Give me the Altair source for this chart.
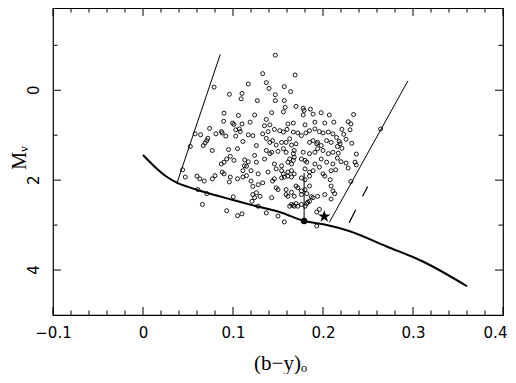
import altair as alt
import pandas as pd

# ---------------- data ----------------
star_by = [
    0.079, 0.096, 0.110, 0.109, 0.117, 0.127, 0.147, 0.133, 0.169, 0.137,
    0.140, 0.157, 0.164, 0.147, 0.147, 0.157, 0.158, 0.170, 0.178, 0.186,
    0.124, 0.143, 0.156, 0.178, 0.179, 0.189, 0.198, 0.207,
    0.137, 0.135, 0.141, 0.161, 0.167, 0.180, 0.191, 0.202, 0.212,
    0.122, 0.133, 0.139, 0.146, 0.152, 0.156, 0.160, 0.167, 0.172, 0.176, 0.181, 0.185, 0.191, 0.196, 0.200, 0.206, 0.211,
    0.126, 0.137, 0.141, 0.144, 0.148, 0.154, 0.159, 0.163, 0.165, 0.170, 0.185, 0.189, 0.193, 0.194, 0.198, 0.204, 0.209,
    0.124, 0.137, 0.141, 0.143, 0.150, 0.156, 0.159, 0.167, 0.168, 0.178, 0.185, 0.191, 0.194, 0.200, 0.206, 0.211,
    0.126, 0.135, 0.146, 0.154, 0.161, 0.163, 0.165, 0.167, 0.168, 0.176, 0.180, 0.182, 0.191, 0.198, 0.204, 0.211,
    0.120, 0.128, 0.139, 0.148, 0.154, 0.156, 0.161, 0.165, 0.168, 0.180, 0.185, 0.189, 0.196, 0.200, 0.209,
    0.090, 0.106, 0.0896, 0.0996, 0.101, 0.110, 0.107, 0.108, 0.119, 0.103,
    0.074, 0.081, 0.087, 0.088, 0.092, 0.103, 0.117, 0.058, 0.064, 0.072,
    0.071, 0.069, 0.067, 0.0526, 0.111, 0.077, 0.095, 0.105, 0.097, 0.093,
    0.101, 0.090, 0.087, 0.117, 0.115, 0.1126, 0.111, 0.044, 0.088, 0.090, 0.113,
    0.228, 0.231, 0.234, 0.221, 0.230, 0.215, 0.218, 0.2256, 0.223, 0.232,
    0.237, 0.216, 0.219, 0.221, 0.216, 0.220, 0.217, 0.2256, 0.2356, 0.237,
    0.264, 0.214, 0.228, 0.208, 0.209, 0.231,
    0.047, 0.060, 0.063, 0.068, 0.077, 0.080, 0.097, 0.096, 0.105, 0.111,
    0.115, 0.120, 0.061, 0.071, 0.066, 0.1003, 0.093, 0.105, 0.110, 0.121,
    0.146, 0.144, 0.154, 0.157, 0.161, 0.165, 0.176, 0.180, 0.185, 0.202,
    0.128, 0.133, 0.148, 0.150, 0.159, 0.161, 0.165, 0.170, 0.172, 0.176,
    0.180, 0.185, 0.194, 0.202, 0.209, 0.211, 0.213,
    0.122, 0.126, 0.130, 0.124, 0.143, 0.159, 0.168, 0.176, 0.182, 0.187, 0.189,
    0.163, 0.165, 0.167, 0.168, 0.170, 0.172, 0.176, 0.180, 0.182, 0.183, 0.185,
    0.128, 0.137, 0.150, 0.157, 0.193, 0.196, 0.193, 0.122,
]
star_mv = [
    -0.07, 0.09, 0.07, 0.19, -0.14, 0.23, -0.78, -0.37, -0.34, -0.17,
    -0.04, -0.08, 0.03, 0.10, 0.23, 0.23, 0.38, 0.36, 0.40, 0.42,
    0.55, 0.50, 0.48, 0.55, 0.45, 0.53, 0.50, 0.55,
    0.65, 0.79, 0.77, 0.75, 0.73, 0.77, 0.71, 0.73, 0.71,
    1.01, 0.97, 0.92, 0.87, 0.90, 0.93, 0.87, 0.93, 0.95, 1.01, 0.95, 0.90, 0.86, 0.92, 0.95, 0.93, 0.97,
    1.23, 1.07, 1.16, 1.12, 1.22, 1.16, 1.16, 1.08, 1.22, 1.19, 1.16, 1.12, 1.19, 1.16, 1.23, 1.12, 1.16,
    1.45, 1.34, 1.41, 1.38, 1.36, 1.30, 1.38, 1.41, 1.34, 1.38, 1.41, 1.38, 1.30, 1.34, 1.41, 1.38,
    1.60, 1.53, 1.64, 1.68, 1.60, 1.53, 1.64, 1.56, 1.49, 1.53, 1.56, 1.60, 1.64, 1.53, 1.60, 1.64,
    1.79, 1.86, 1.82, 1.75, 1.79, 1.86, 1.82, 1.79, 1.86, 1.75, 1.82, 1.79, 1.71, 1.86, 1.79,
    0.51, 0.56, 0.69, 0.73, 0.76, 0.75, 0.86, 0.92, 0.71, 0.88,
    0.85, 0.97, 0.92, 0.95, 1.02, 1.02, 0.99, 0.97, 0.99, 1.07,
    1.12, 1.17, 1.23, 1.25, 1.14, 1.34, 1.32, 1.30, 1.47, 1.53,
    1.56, 1.60, 1.64, 1.59, 1.69, 1.68, 1.79, 1.77, 1.82, 1.86, 1.55,
    0.70, 0.75, 0.54, 0.87, 0.88, 1.05, 1.14, 1.09, 0.98, 1.18,
    1.42, 1.25, 1.19, 1.29, 1.51, 1.59, 1.40, 1.62, 1.60, 1.66,
    0.86, 1.77, 1.73, 1.99, 2.42, 2.03,
    1.93, 1.91, 1.97, 2.02, 1.97, 1.90, 1.93, 2.04, 1.97, 1.93,
    1.90, 2.02, 2.21, 2.30, 2.54, 2.37, 2.68, 2.79, 2.75, 2.47,
    1.97, 2.02, 1.95, 1.93, 1.91, 1.93, 1.95, 1.99, 1.91, 1.91,
    2.10, 2.06, 2.17, 2.21, 2.21, 2.36, 2.27, 2.13, 2.17, 2.24,
    2.21, 2.13, 2.36, 2.32, 2.13, 2.24, 2.30,
    2.32, 2.28, 2.36, 2.39, 2.39, 2.32, 2.36, 2.32, 2.30, 2.37, 2.39,
    2.58, 2.54, 2.56, 2.58, 2.52, 2.58, 2.54, 2.58, 2.52, 2.49, 2.47,
    2.58, 2.73, 2.80, 2.93, 2.71, 2.65, 3.02, 2.14,
]

zams_by = [0.0, 0.013, 0.026, 0.038, 0.05, 0.064, 0.085, 0.10, 0.12, 0.155,
           0.179, 0.203, 0.229, 0.27, 0.311, 0.36]
zams_mv = [1.44, 1.70, 1.92, 2.06, 2.15, 2.24, 2.36, 2.44, 2.55, 2.73,
           2.91, 2.99, 3.13, 3.47, 3.81, 4.36]

edge_seg = ["left", "left", "right", "right"]
edge_by = [0.0378, 0.0859, 0.207, 0.2944]
edge_mv = [2.06, -0.80, 2.94, -0.21]

dash_by = [0.229, 0.2496]
dash_mv = [2.95, 2.14]

vert_by = [0.179, 0.179]
vert_mv = [1.84, 2.91]

dot_by = [0.179]
dot_mv = [2.91]

sun_by = [0.2014]
sun_mv = [2.81]

x_major = [-0.1, 0.0, 0.1, 0.2, 0.3, 0.4]
x_minor = [-0.08, -0.06, -0.04, -0.02, 0.02, 0.04, 0.06, 0.08, 0.12, 0.14,
           0.16, 0.18, 0.22, 0.24, 0.26, 0.28, 0.32, 0.34, 0.36, 0.38]
y_major = [0, 2, 4]
y_labels = ["0", "2", "4"]
y_minor = [-1, 1, 3]
y_title = ["M\u1d65"]
x_title = "(b\u2212y)\u2092"

# ---------------- chart ----------------
W, H = 450, 307
MAJ, MIN = 8, 4.5
xs = alt.Scale(domain=[-0.1, 0.4], nice=False, zero=False)
ys = alt.Scale(domain=[-1.83, 5], reverse=True, nice=False, zero=False)

xaxis = alt.Axis(values=x_major, ticks=False, tickSize=0, domain=False, grid=False,
                 labelExpr="datum.value == 0 ? '0' : format(datum.value, '.1f')",
                 labelFlush=False, labelPadding=22,
                 labelOffset={"condition": {"test": "datum.value > 0.35", "value": -8}, "value": 0},
                 labelFont="DejaVu Sans", labelFontSize=15, labelColor="black",
                 labelAngle=0, labelAlign="center", labelBaseline="alphabetic",
                 title=x_title, titleX=227, titleY=54, titleAngle=0, titleAlign="center",
                 titleBaseline="alphabetic", titleFont="Liberation Serif", titleFontSize=21,
                 titleFontWeight="normal", titleColor="black")


def X():
    return alt.X("by:Q", scale=xs, axis=xaxis)


def Y():
    return alt.Y("mv:Q", scale=ys, axis=None)


stars = pd.DataFrame({"by": star_by, "mv": star_mv})
pts = alt.Chart(stars).mark_point(shape="circle", filled=False, size=16, strokeWidth=0.9,
                                  color="black", opacity=1).encode(x=X(), y=Y())

zams = alt.Chart(pd.DataFrame({"by": zams_by, "mv": zams_mv})).mark_line(
    color="black", strokeWidth=2, interpolate="monotone").encode(x=X(), y=Y(), order="by:Q")

edges = alt.Chart(pd.DataFrame({"seg": edge_seg, "by": edge_by, "mv": edge_mv})).mark_line(
    color="black", strokeWidth=1).encode(x=X(), y=Y(), detail="seg:N")

dash = alt.Chart(pd.DataFrame({"by": dash_by, "mv": dash_mv})).mark_line(
    color="black", strokeWidth=1.2, strokeDash=[14.6, 15.2]).encode(x=X(), y=Y())

vert = alt.Chart(pd.DataFrame({"by": vert_by, "mv": vert_mv})).mark_line(
    color="black", strokeWidth=1).encode(x=X(), y=Y())

dot = alt.Chart(pd.DataFrame({"by": dot_by, "mv": dot_mv})).mark_point(
    shape="circle", filled=True, size=42, color="black", opacity=1).encode(x=X(), y=Y())

STAR = ("M0,-1L0.2245,-0.309L0.951,-0.309L0.363,0.118L0.588,0.809L0,0.382"
        "L-0.588,0.809L-0.363,0.118L-0.951,-0.309L-0.2245,-0.309Z")
sun = alt.Chart(pd.DataFrame({"by": sun_by, "mv": sun_mv})).mark_point(
    shape=STAR, filled=True, size=170, color="black", opacity=1).encode(x=X(), y=Y())


def xticks(vals, y0, y1):
    return alt.Chart(pd.DataFrame({"by": vals})).mark_rule(color="black", strokeWidth=1).encode(
        x=X(), y=alt.value(y0), y2=alt.value(y1))


def yticks(vals, x0, x1):
    return alt.Chart(pd.DataFrame({"mv": vals})).mark_rule(color="black", strokeWidth=1).encode(
        y=Y(), x=alt.value(x0), x2=alt.value(x1))


ticks = [
    xticks(x_major, H, H - MAJ), xticks(x_minor, H, H - MIN),
    xticks(x_major, 0, MAJ), xticks(x_minor, 0, MIN),
    yticks(y_major, 0, MAJ), yticks(y_minor, 0, MIN),
    yticks(y_major, W, W - MAJ), yticks(y_minor, W, W - MIN),
]

# rotated y tick labels and y title (axis text drawn as text marks)
ylab = alt.Chart(pd.DataFrame({"mv": y_major, "lab": y_labels})).mark_text(
    angle=270, align="center", baseline="alphabetic", font="DejaVu Sans", fontSize=15,
    color="black").encode(y=Y(), x=alt.value(-14), text="lab:N")

ytit = alt.Chart(pd.DataFrame({"t": y_title})).mark_text(
    angle=270, align="center", baseline="alphabetic", font="Liberation Serif", fontSize=20,
    color="black").encode(x=alt.value(-27), y=alt.value(150), text="t:N")

chart = alt.layer(pts, zams, edges, dash, vert, dot, sun, *ticks, ylab, ytit).properties(
    width=W, height=H,
    autosize=alt.AutoSizeParams(type="none"),
    padding={"left": 45, "top": 0, "right": 5, "bottom": 59},
    background="white",
).configure_view(stroke="black", strokeWidth=1.2)

chart.save("out.html", embed_options={"renderer": "svg", "actions": False})
